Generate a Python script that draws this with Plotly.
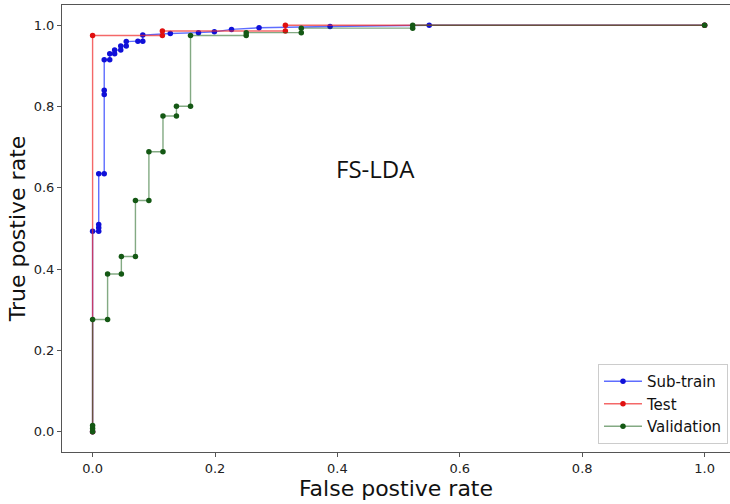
import plotly.graph_objects as go

# ---- data ----
subtrain_fpr = [0, 0, 0.010, 0.010, 0.010, 0.010, 0.019, 0.019, 0.019, 0.019, 0.028, 0.028,
                0.036, 0.036, 0.046, 0.046, 0.055, 0.055, 0.074, 0.082, 0.082, 0.127, 0.173,
                0.199, 0.227, 0.272, 0.388, 0.550, 1.0]
subtrain_tpr = [0, 0.493, 0.493, 0.502, 0.510, 0.635, 0.635, 0.830, 0.840, 0.915, 0.915, 0.930,
                0.930, 0.939, 0.939, 0.949, 0.949, 0.960, 0.961, 0.961, 0.976, 0.980, 0.982,
                0.984, 0.990, 0.994, 0.997, 1.0, 1.0]

test_fpr = [0, 0, 0.114, 0.114, 0.315, 0.315, 1.0]
test_tpr = [0, 0.975, 0.975, 0.986, 0.986, 1.0, 1.0]

valid_fpr = [0, 0, 0, 0, 0.0245, 0.0245, 0.047, 0.047, 0.070, 0.070, 0.092, 0.092, 0.115, 0.115,
             0.137, 0.137, 0.160, 0.160, 0.251, 0.251, 0.341, 0.341, 0.523, 0.523, 1.0]
valid_tpr = [0, 0.008, 0.015, 0.276, 0.276, 0.388, 0.388, 0.431, 0.431, 0.569, 0.569, 0.689,
             0.689, 0.777, 0.777, 0.801, 0.801, 0.975, 0.975, 0.982, 0.982, 0.993, 0.993, 1.0, 1.0]

tick_vals = [0.0, 0.2, 0.4, 0.6, 0.8, 1.0]
tick_text = ["0.0", "0.2", "0.4", "0.6", "0.8", "1.0"]

fig = go.Figure()
fig.add_trace(go.Scatter(x=subtrain_fpr, y=subtrain_tpr, mode="lines+markers", name="Sub-train",
                         line=dict(color="rgba(40,60,255,0.75)", width=1.4),
                         marker=dict(color="#1010d8", size=5.5)))
fig.add_trace(go.Scatter(x=test_fpr, y=test_tpr, mode="lines+markers", name="Test",
                         line=dict(color="rgba(240,40,40,0.7)", width=1.4),
                         marker=dict(color="#e01010", size=5.5)))
fig.add_trace(go.Scatter(x=valid_fpr, y=valid_tpr, mode="lines+markers", name="Validation",
                         line=dict(color="rgba(30,100,30,0.55)", width=1.4),
                         marker=dict(color="#145814", size=5.5)))

fig.add_annotation(x=0.462, y=0.648, xref="x", yref="y", text="FS-LDA", showarrow=False,
                   font=dict(family="Open Sans", size=24, color="#111"))

axis_common = dict(showline=True, linecolor="#555", linewidth=1, mirror=True,
                   showgrid=False, zeroline=False, ticks="outside", ticklen=4,
                   tickcolor="#555", tickvals=tick_vals, ticktext=tick_text,
                   tickfont=dict(family="DejaVu Sans", size=13, color="#222"))

fig.update_layout(
    width=730, height=504, autosize=False,
    margin=dict(l=62, r=0, t=5, b=52),
    paper_bgcolor="white", plot_bgcolor="white",
    xaxis=dict(range=[-0.05, 1.0415],
               title=dict(text="False postive rate", standoff=4,
                          font=dict(family="DejaVu Sans", size=22, color="#111")),
               **axis_common),
    yaxis=dict(range=[-0.05, 1.05],
               title=dict(text="True postive rate", standoff=2,
                          font=dict(family="DejaVu Sans", size=22, color="#111")),
               **axis_common),
    legend=dict(x=0.997, y=0.018, xanchor="right", yanchor="bottom",
                bgcolor="rgba(255,255,255,0.9)", bordercolor="#ccc", borderwidth=1,
                font=dict(family="DejaVu Sans", size=15, color="#111"),
                itemwidth=38, tracegroupgap=0),
    showlegend=True,
)

fig.write_html("out.html")
